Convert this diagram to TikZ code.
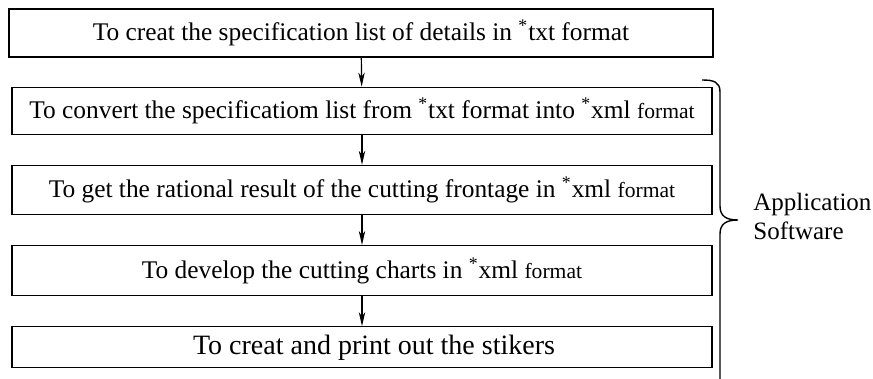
\documentclass[tikz,border=0pt]{standalone}
\usepackage{fontspec}
\setmainfont{Liberation Serif}
\usepackage{tikz}
\usetikzlibrary{arrows.meta}
\usetikzlibrary{positioning}

\newcommand{\starmark}{\textsuperscript{*}}
\newcommand{\smallfmt}{{\fontsize{10.8}{12}\selectfont format}}

\tikzset{
  stepbox/.style={draw,rectangle,line width=0.6pt,inner sep=0pt,
    minimum width=350pt,minimum height=23.5pt,
    font=\fontsize{12.7}{14}\selectfont},
  flow/.style={draw,line width=0.6pt,-{Stealth[length=7pt,width=3.2pt,inset=2pt]}}
}

\begin{document}
\begin{tikzpicture}[node distance=15pt]

  \useasboundingbox (0pt,0pt) rectangle (436.5pt,-189.5pt);

  \node [stepbox,minimum width=352pt,minimum height=24pt] (spec) at (180.5pt,-16.5pt)
    {To creat the specification list of details in \starmark txt format};
  \node [stepbox,below=14.5pt of spec,xshift=0.5pt] (convert)
    {To convert the specificatiom list from \starmark txt format into \starmark xml \smallfmt};
  \node [stepbox,below=of convert,minimum height=24.5pt] (result)
    {To get the rational result of the cutting frontage in \starmark xml \smallfmt};
  \node [stepbox,below=of result,minimum height=25pt] (charts)
    {To develop the cutting charts in \starmark xml \smallfmt};
  \node [stepbox,below=of charts,minimum height=20.5pt,font=\fontsize{14}{16}\selectfont] (stikers)
    {\hspace*{12pt}To creat and print out the stikers};

  \path [flow]
    (spec)    edge (convert)
    (convert) edge (result)
    (result)  edge (charts)
    (charts)  edge (stikers);

  % brace for the software part
  \coordinate (bracetop) at (351pt,-40pt);
  \coordinate (bracetip) at (369pt,-110pt);
  \coordinate (bracebot) at (360pt,-192pt);
  \draw [line width=0.7pt]
    (bracetop) .. controls (357pt,-40pt) and (360pt,-41pt) .. (360pt,-46pt)
    -- (360pt,-103pt) .. controls (360pt,-108pt) and (363pt,-110pt) .. (bracetip)
    .. controls (363pt,-110pt) and (360pt,-112pt) .. (360pt,-117pt)
    -- (bracebot);

  \node [anchor=west,align=left,inner sep=0pt,font=\fontsize{12.5}{14.5}\selectfont]
    (appsw) at (376.5pt,-108pt) {Application\\Software};

\end{tikzpicture}
\end{document}
